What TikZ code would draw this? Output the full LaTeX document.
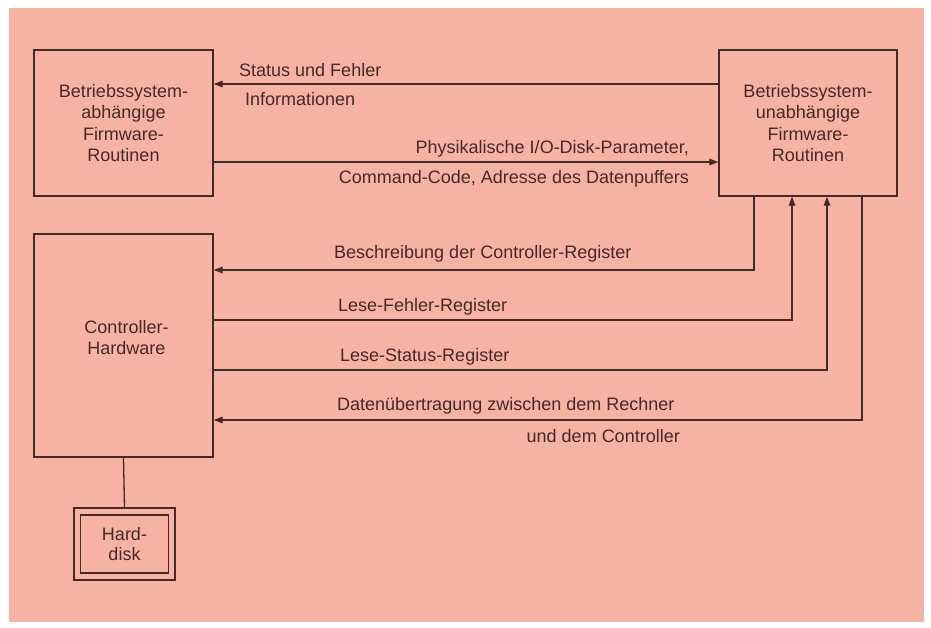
\documentclass[tikz,border=0pt]{standalone}
\usepackage{fontspec}
\setmainfont{Liberation Sans}
\usetikzlibrary{arrows.meta}
\definecolor{bgpink}{RGB}{246,178,163}
\definecolor{ink}{RGB}{72,42,36}
\tikzset{
  box/.style={draw=ink, line width=1.4pt, text=ink, align=center, inner sep=0pt,
    font=\fontsize{18}{21.5}\selectfont},
  lbl/.style={text=ink, inner sep=0pt, font=\fontsize{18}{21.5}\selectfont},
  conn/.style={draw=ink, line width=1.3pt},
  arr/.style={conn, -{Triangle[length=9pt,width=6.5pt]}},
}
\begin{document}
\begin{tikzpicture}[x=1pt,y=-1pt]
\useasboundingbox (0,0) rectangle (931,627);
\fill[white] (0,0) rectangle (931,627);
\fill[bgpink] (9,8) rectangle (924,622);

% boxes
\node[box, minimum width=179pt, minimum height=146pt] (b1) at (123.5,123)
  {Betriebssystem-\\abhängige\\Firmware-\\Routinen};
\node[box, minimum width=178pt, minimum height=146pt] (b2) at (808,123)
  {Betriebssystem-\\unabhängige\\Firmware-\\Routinen};
\node[box, minimum width=179pt, minimum height=223pt] (b3) at (123.5,345.5) {};
\node[lbl, align=center] (b3t) at (126.5,337.5) {Controller-\\Hardware};
\node[box, minimum width=101pt, minimum height=72pt] (hdo) at (124.5,544) {};
\node[box, minimum width=88pt, minimum height=58pt, font=\fontsize{18}{20}\selectfont] (hd) at (124.5,544) {Hard-\\disk};

% connectors between top boxes
\draw[arr] (b2.west |- 0,84) -- (b1.east |- 0,84);
\draw[arr] (b1.east |- 0,162) -- (b2.west |- 0,162);

% bend points
\coordinate (k1) at (754,270);
\coordinate (k2) at (792,320);
\coordinate (k3) at (827,370);
\coordinate (k4) at (862,420);

\draw[arr] (b2.south -| k1) -- (k1) -- (b3.east |- k1);
\draw[arr] (b3.east |- k2) -- (k2) -- (b2.south -| k2);
\draw[arr] (b3.east |- k3) -- (k3) -- (b2.south -| k3);
\draw[arr] (b2.south -| k4) -- (k4) -- (b3.east |- k4);

\draw[conn] (b3.south) -- (hdo.north);

% labels
\node[lbl, anchor=base west] (l1) at (239,76.5) {Status und Fehler};
\node[lbl, anchor=base west] (l2) at (245,105.5) {Informationen};
\node[lbl, anchor=base east] (l3) at (689,153.5) {Physikalische I/O-Disk-Parameter,};
\node[lbl, anchor=base east] (l4) at (689,183.5) {Command-Code, Adresse des Datenpuffers};
\node[lbl, anchor=base west] (l5) at (334,258.5) {Beschreibung der Controller-Register};
\node[lbl, anchor=base west] (l6) at (338,311.5) {Lese-Fehler-Register};
\node[lbl, anchor=base west] (l7) at (340,361.5) {Lese-Status-Register};
\node[lbl, anchor=base west] (l8) at (337,410.5) {Datenübertragung zwischen dem Rechner};
\node[lbl, anchor=base east] (l9) at (680,442.5) {und dem Controller};
\end{tikzpicture}
\end{document}
